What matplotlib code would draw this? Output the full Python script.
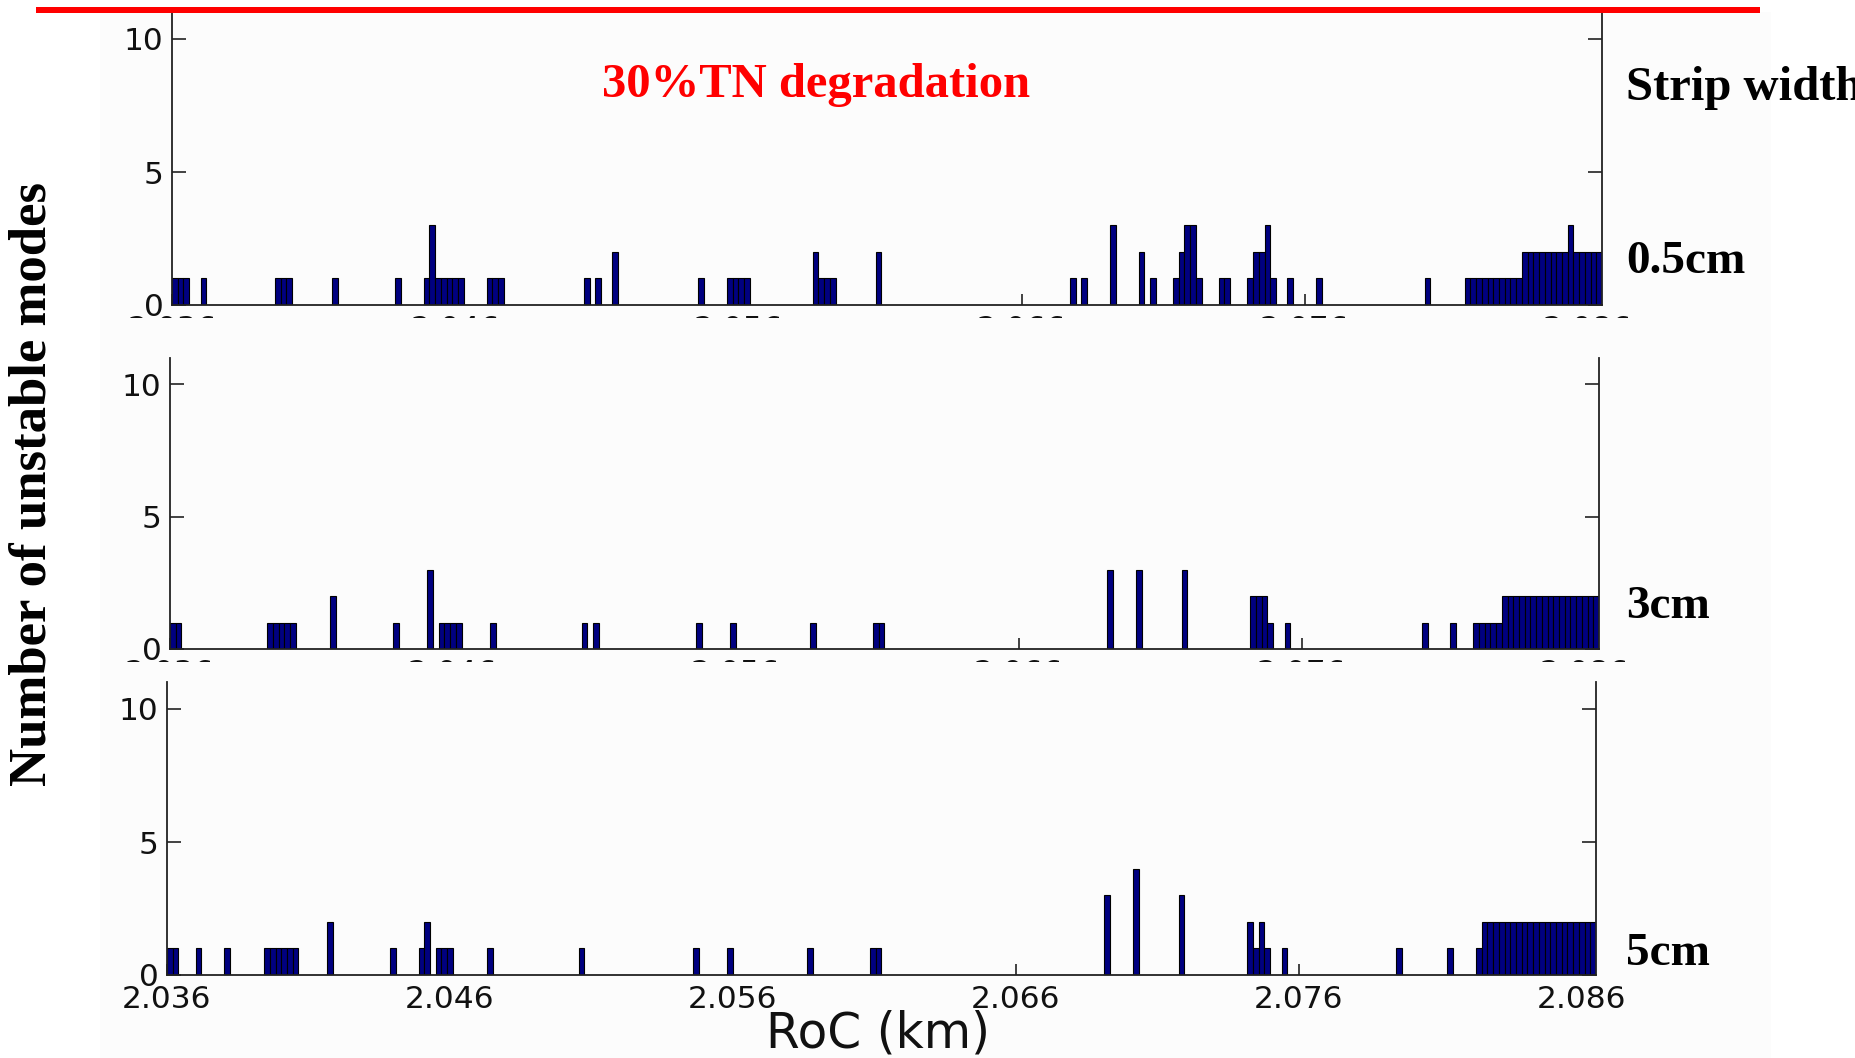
import matplotlib
matplotlib.use('Agg')
import matplotlib.pyplot as plt
from matplotlib.patches import Rectangle
import numpy as np

# histogram bins along the radius of curvature (km)
n_bins = 250
roc_min, roc_max = 2.036, 2.0865
edges = np.linspace(roc_min, roc_max, n_bins + 1)
bin_w = edges[1] - edges[0]

xticks = [2.036, 2.046, 2.056, 2.066, 2.076, 2.086]
xtick_labels = ['2.036', '2.046', '2.056', '2.066', '2.076', '2.086']

# occupied bins and number of unstable modes in each, per strip width
bins_05 = [0, 1, 2, 5, 18, 19, 20, 28, 39,
           44, 45, 46, 47, 48, 49, 50, 55, 56, 57,
           72, 74, 77, 92, 97, 98, 99, 100,
           112, 113, 114, 115, 123, 157, 159, 164,
           169, 171, 175, 176, 177, 178, 179, 183, 184,
           188, 189, 190, 191, 192, 195, 200, 219,
           226, 227, 228, 229, 230, 231, 232, 233, 234, 235,
           236, 237, 238, 239, 240, 241, 242, 243,
           244, 245, 246, 247, 248, 249]
counts_05 = [1, 1, 1, 1, 1, 1, 1, 1, 1,
             1, 3, 1, 1, 1, 1, 1, 1, 1, 1,
             1, 1, 2, 1, 1, 1, 1, 1,
             2, 1, 1, 1, 2, 1, 1, 3,
             2, 1, 1, 2, 3, 3, 1, 1, 1,
             1, 2, 2, 3, 1, 1, 1, 1,
             1, 1, 1, 1, 1, 1, 1, 1, 1, 1,
             2, 2, 2, 2, 2, 2, 2, 2,
             3, 2, 2, 2, 2, 2]

bins_3 = [0, 1, 17, 18, 19, 20, 21, 28, 39,
          45, 47, 48, 49, 50, 56, 72, 74, 92, 98,
          112, 123, 124, 164, 169, 177,
          189, 190, 191, 192, 195, 219, 224,
          228, 229, 230, 231, 232,
          233, 234, 235, 236, 237, 238, 239, 240, 241,
          242, 243, 244, 245, 246, 247, 248, 249]
counts_3 = [1, 1, 1, 1, 1, 1, 1, 2, 1,
            3, 1, 1, 1, 1, 1, 1, 1, 1, 1,
            1, 1, 1, 3, 3, 3,
            2, 2, 2, 1, 1, 1, 1,
            1, 1, 1, 1, 1,
            2, 2, 2, 2, 2, 2, 2, 2, 2,
            2, 2, 2, 2, 2, 2, 2, 2]

bins_5 = [0, 1, 5, 10, 17, 18, 19, 20, 21, 22, 28, 39,
          44, 45, 47, 48, 49, 56, 72, 92, 98,
          112, 123, 124, 164, 169, 177,
          189, 190, 191, 192, 195, 215, 224, 229,
          230, 231, 232, 233, 234, 235, 236, 237, 238, 239,
          240, 241, 242, 243, 244, 245, 246, 247, 248, 249]
counts_5 = [1, 1, 1, 1, 1, 1, 1, 1, 1, 1, 2, 1,
            1, 2, 1, 1, 1, 1, 1, 1, 1,
            1, 1, 1, 3, 4, 3,
            2, 1, 2, 1, 1, 1, 1, 1,
            2, 2, 2, 2, 2, 2, 2, 2, 2, 2,
            2, 2, 2, 2, 2, 2, 2, 2, 2, 2]

strip_labels = ['0.5cm', '3cm', '5cm']
panels = [(bins_05, counts_05), (bins_3, counts_3), (bins_5, counts_5)]

W, H = 1856, 1058
serif = 'Liberation Serif'
back = '#fcfcfc'


def frac_box(x0, y0, x1, y1):
    # pixel box (top-left origin) -> figure fraction rectangle
    return [x0 / W, 1 - y1 / H, (x1 - x0) / W, (y1 - y0) / H]


fig = plt.figure(figsize=(W / 100, H / 100), dpi=100)
fig.patch.set_facecolor('white')

l, b, w, h = frac_box(100, 12, 1771, 1058)
fig.add_artist(Rectangle((l, b), w, h, transform=fig.transFigure,
                         facecolor=back, edgecolor='none', zorder=-1))

# axes boxes in pixels: left, right, baseline, top
boxes = [(172, 1602, 305, 12.4), (170, 1599, 649, 357.5), (167, 1596, 975, 682.4)]
label_y = [273, 618, 965]

for k, ((bins, counts), (x0, x1, y0, y1)) in enumerate(zip(panels, boxes)):
    ax = fig.add_axes(frac_box(x0, y1, x1, y0))
    # each panel sits above the strip that hides the labels of the one before
    ax.set_zorder(2 * k)
    ax.set_facecolor('none')
    ax.bar(edges[np.array(bins)], counts, width=bin_w, align='edge',
           color='#000080', edgecolor='black', linewidth=0.8)
    ax.set_xlim(roc_min, roc_max)
    ax.set_ylim(0, 11)
    ax.set_yticks([0, 5, 10])
    ax.set_xticks(xticks)
    ax.set_xticklabels(xtick_labels)
    ax.set_axisbelow(True)
    ax.spines['top'].set_visible(False)
    for s in ['left', 'right', 'bottom']:
        ax.spines[s].set_linewidth(1.3)
        ax.spines[s].set_color('#222222')
    ax.tick_params(axis='both', direction='in', width=1.2, labelsize=22.5,
                   color='#222222', labelcolor='#111111')
    ax.tick_params(axis='y', length=10, right=True, pad=6)
    ax.tick_params(axis='x', length=8, top=False, pad=7)

    fig.text(1626 / W, 1 - label_y[k] / H, strip_labels[k], fontsize=34,
             fontweight='bold', family=serif, ha='left', va='baseline')

# upper panels: only the top of their RoC tick labels shows
for z, (y_a, y_b) in enumerate([(318, 352), (662, 692)]):
    l, b, w, h = frac_box(100, y_a, 1771, y_b)
    fig.add_artist(Rectangle((l, b), w, h, transform=fig.transFigure,
                             facecolor=back, edgecolor='none', zorder=2 * z + 1))

l, b, w, h = frac_box(36, 7, 1760, 13)
fig.add_artist(Rectangle((l, b), w, h, transform=fig.transFigure,
                         facecolor='red', edgecolor='none', zorder=6))

fig.text(816 / W, 1 - 97 / H, '30%TN degradation', color='red', fontsize=35,
         fontweight='bold', family=serif, ha='center', va='baseline')
fig.text(1626 / W, 1 - 100 / H, 'Strip width', fontsize=35,
         fontweight='bold', family=serif, ha='left', va='baseline')
fig.text(33 / W, 1 - 484 / H, 'Number of unstable modes', rotation=90,
         fontsize=38, fontweight='bold', family=serif, ha='center', va='center')
fig.text(878 / W, 1 - 1033 / H, 'RoC (km)', fontsize=35, ha='center', va='center',
         color='#111111')

fig.savefig('out.png', dpi=100, facecolor='white')
